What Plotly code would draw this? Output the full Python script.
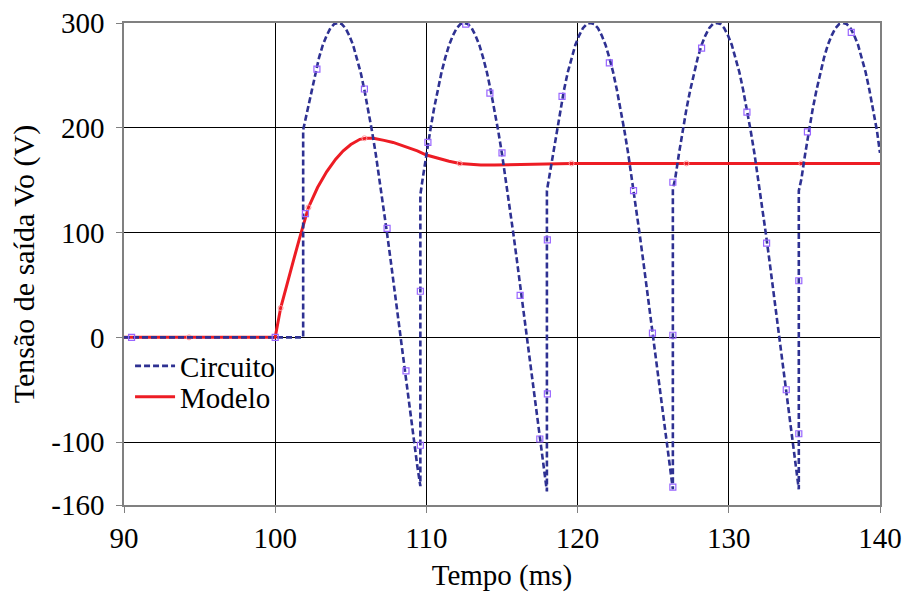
import plotly.graph_objects as go

# ---- data ----
circ_t = [90.0, 101.85, 101.85, 102.15, 102.40, 102.65, 102.90, 103.15, 103.40, 103.65, 103.90, 104.15,
          104.40, 104.65, 104.90, 105.15, 105.40, 105.65, 105.90, 106.15, 106.40, 106.65, 106.90, 107.15,
          107.40, 107.65, 107.90, 108.15, 108.40, 108.65, 108.90, 109.15, 109.40, 109.60,
          109.60, 109.75, 110.00, 110.25, 110.50, 110.75, 111.00, 111.25, 111.50, 111.75, 112.00, 112.25,
          112.50, 112.75, 113.00, 113.25, 113.50, 113.75, 114.00, 114.25, 114.50, 114.75, 115.00, 115.25,
          115.50, 115.75, 116.00, 116.25, 116.50, 116.75, 117.00, 117.25, 117.50, 117.75, 117.97,
          117.97, 118.10, 118.35, 118.60, 118.85, 119.10, 119.35, 119.60, 119.85, 120.10, 120.35, 120.60,
          120.85, 121.10, 121.35, 121.60, 121.85, 122.10, 122.35, 122.60, 122.85, 123.10, 123.35, 123.60,
          123.85, 124.10, 124.35, 124.60, 124.85, 125.10, 125.35, 125.60, 125.85, 126.10, 126.30,
          126.30, 126.45, 126.70, 126.95, 127.20, 127.45, 127.70, 127.95, 128.20, 128.45, 128.70, 128.95,
          129.20, 129.45, 129.70, 129.95, 130.20, 130.45, 130.70, 130.95, 131.20, 131.45, 131.70, 131.95,
          132.20, 132.45, 132.70, 132.95, 133.20, 133.45, 133.70, 133.95, 134.20, 134.45, 134.63,
          134.63, 134.80, 135.05, 135.30, 135.55, 135.80, 136.05, 136.30, 136.55, 136.80, 137.05, 137.30,
          137.55, 137.80, 138.05, 138.30, 138.55, 138.80, 139.05, 139.30, 139.55, 139.80, 140.00]
circ_v = [0, 0, 198, 218, 236, 253, 267, 279, 288, 295, 299, 300,
          299, 295, 288, 279, 267, 253, 236, 218, 197, 175, 151, 125,
          99, 72, 44, 15, -13, -42, -70, -97, -123, -142,
          136, 151, 175, 197, 218, 236, 253, 267, 279, 288, 295, 299,
          300, 299, 295, 288, 279, 267, 253, 236, 218, 197, 175, 151,
          125, 99, 72, 44, 15, -13, -42, -70, -97, -123, -147,
          140, 151, 175, 197, 218, 236, 253, 267, 279, 288, 295, 299,
          300, 299, 295, 288, 279, 267, 253, 236, 218, 197, 175, 151,
          125, 99, 72, 44, 15, -13, -42, -70, -97, -123, -145,
          142, 151, 175, 197, 218, 236, 253, 267, 279, 288, 295, 299,
          300, 299, 295, 288, 279, 267, 253, 236, 218, 197, 175, 151,
          125, 99, 72, 44, 15, -13, -42, -70, -97, -123, -145,
          140, 151, 175, 197, 218, 236, 253, 267, 279, 288, 295, 299,
          300, 299, 295, 288, 279, 267, 253, 236, 218, 197, 176]

model_t = [90.0, 100.0, 100.36, 100.8, 101.2, 101.6, 101.86, 102.2, 102.8, 103.4, 104.0, 104.5, 105.0,
           105.6, 106.0, 106.5, 107.2, 107.8, 108.6, 109.4, 110.0, 110.9, 111.5, 112.2, 113.0, 113.6,
           114.5, 115.8, 117.5, 119.6, 125.0, 130.0, 140.0]
model_v = [0, 0, 28, 53, 73, 94, 108, 124, 143, 158, 170, 178, 184,
           189, 190, 190, 188, 186, 182, 178, 174, 170, 168, 166, 165, 164.5,
           164.5, 165, 165.5, 166, 166, 166, 166]

circ_mk_t = [90.5, 100.0, 102.0, 102.76, 105.9, 107.4, 108.65, 109.6, 109.6, 110.1, 112.6, 114.2, 115.0,
             116.2, 117.5, 118.0, 118.0, 118.97, 122.1, 123.7, 124.95, 126.3, 126.3, 126.3, 128.2,
             131.2, 132.5, 133.8, 134.63, 134.63, 135.2, 138.1]
circ_mk_v = [0, 0, 118, 256, 237, 104, -32, -103, 44, 186, 299, 233, 176,
             40, -97, -54, 93, 230, 262, 140, 4, 2, -143, 148, 276,
             215, 90, -50, 54, -92, 196, 291]

model_mk_t = [94.3, 100.36, 102.2, 105.9, 112.2, 119.6, 127.2, 134.8]
model_mk_v = [0, 28, 124, 190, 166, 166, 166, 166]

x_ticks = [90, 100, 110, 120, 130, 140]
y_ticks = [300, 200, 100, 0, -100, -160]

FONT = "'Liberation Serif', 'Times New Roman', 'DejaVu Serif', serif"
NAVY = "#2E3192"
RED = "#ED1C24"

fig = go.Figure()
fig.add_trace(go.Scatter(x=model_t, y=model_v, mode="lines", name="Modelo", legend="legend2",
                         line=dict(color=RED, width=3)))
fig.add_trace(go.Scatter(x=model_mk_t, y=model_mk_v, mode="markers", showlegend=False,
                         marker=dict(symbol="circle-open", size=5, color="#FF9AA0",
                                     line=dict(width=1, color="#FF9AA0"))))
fig.add_trace(go.Scatter(x=circ_t, y=circ_v, mode="lines", name="Circuito", legend="legend",
                         line=dict(color=NAVY, width=2.6, dash="6px,3px")))
fig.add_trace(go.Scatter(x=circ_mk_t, y=circ_mk_v, mode="markers", showlegend=False,
                         marker=dict(symbol="square-open", size=6, color="#9966FF",
                                     line=dict(width=1.2, color="#9966FF"))))

leg_common = dict(xanchor="left", yanchor="middle", bgcolor="rgba(0,0,0,0)",
                  font=dict(family=FONT, size=29), itemwidth=40)

fig.update_layout(
    width=906, height=594,
    margin=dict(l=124, r=26, t=23, b=89),
    paper_bgcolor="white", plot_bgcolor="white",
    font=dict(family=FONT, size=29, color="black"),
    showlegend=True,
    legend=dict(x=0.008, y=(505 - 366) / 482, **leg_common),
    legend2=dict(x=0.008, y=(505 - 397) / 482, **leg_common),
    xaxis=dict(range=[90, 140], tickvals=x_ticks, ticktext=[str(v) for v in x_ticks],
               showgrid=True, gridcolor="black", gridwidth=1,
               showline=True, linecolor="#808080", linewidth=1.5, mirror=True,
               ticks="outside", ticklen=6, tickcolor="#808080", automargin=False,
               zeroline=False, tickfont=dict(family=FONT, size=29),
               title=dict(text="Tempo (ms)", font=dict(family=FONT, size=29), standoff=12)),
    yaxis=dict(range=[-160, 300], tickvals=y_ticks, ticktext=[str(v) for v in y_ticks],
               showgrid=True, gridcolor="black", gridwidth=1,
               showline=True, linecolor="#808080", linewidth=1.5, mirror=True,
               ticks="outside", ticklen=6, tickcolor="#808080", automargin=False,
               ticklabelstandoff=6,
               zeroline=False, tickfont=dict(family=FONT, size=29),
               title=dict(text="Tensão de saída Vo (V)", font=dict(family=FONT, size=30), standoff=8)),
)

fig.write_html("out.html")
